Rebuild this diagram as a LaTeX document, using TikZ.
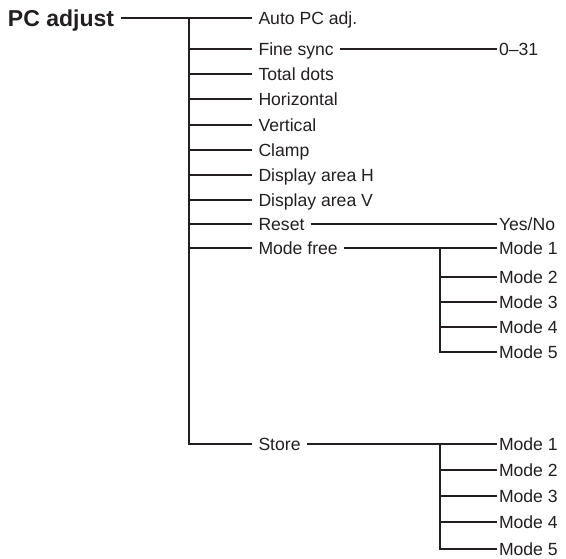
\documentclass[tikz,border=0pt]{standalone}
\usepackage{fontspec}
\setmainfont{Liberation Sans}
\definecolor{ink}{HTML}{231F20}
\begin{document}
\begin{tikzpicture}[x=1pt,y=-1pt,
  line width=1.2pt, draw=ink,
  item/.style={anchor=west, inner xsep=6.5pt, inner ysep=0pt, outer sep=0pt,
    font=\fontsize{17.6}{17.6}\selectfont, text=ink, text height=12.6pt, text depth=0pt},
  leaf/.style={item, inner xsep=2pt},
  title/.style={anchor=west, inner xsep=7pt, inner ysep=0pt, outer sep=0pt,
    font=\fontsize{23}{23}\selectfont\bfseries, text=ink, text height=16.5pt, text depth=0pt}]
\useasboundingbox (0,0) rectangle (566,558);
% main node
\node[title] (pc) at (1,18) {PC adjust};
% first level
\node[item] (auto)  at (252,18)  {Auto PC adj.};
\node[item] (fine)  at (252,49)  {Fine sync};
\node[item] (total) at (252,74)  {Total dots};
\node[item] (hor)   at (252,99)  {Horizontal};
\node[item] (ver)   at (252,125) {Vertical};
\node[item] (clamp) at (252,150) {Clamp};
\node[item] (dah)   at (252,175) {Display area H};
\node[item] (dav)   at (252,200) {Display area V};
\node[item] (reset) at (252,224) {Reset};
\node[item] (mfree) at (252,248) {Mode free};
\node[item] (store) at (252,444) {Store};
% leaves
\node[leaf] (range) at (497,49)  {0–31};
\node[leaf] (yesno) at (497,224) {Yes/No};
\node[leaf] (fm1) at (497,248) {Mode 1};
\node[leaf] (fm2) at (497,277) {Mode 2};
\node[leaf] (fm3) at (497,302) {Mode 3};
\node[leaf] (fm4) at (497,327) {Mode 4};
\node[leaf] (fm5) at (497,352) {Mode 5};
\node[leaf] (sm1) at (497,444) {Mode 1};
\node[leaf] (sm2) at (497,470) {Mode 2};
\node[leaf] (sm3) at (497,496) {Mode 3};
\node[leaf] (sm4) at (497,522) {Mode 4};
\node[leaf] (sm5) at (497,549) {Mode 5};
% trunks
\coordinate (t) at (189,18);
\coordinate (ft) at (440,248);
\coordinate (st) at (440,444);
\draw (pc.east) -- (auto.west);
\draw (t) -- (t |- store.west) -- (store.west);
\foreach \n in {fine,total,hor,ver,clamp,dah,dav,reset,mfree}
  \draw (t |- \n.west) -- (\n.west);
\draw (fine.east) -- (range.west);
\draw (reset.east) -- (yesno.west);
\draw (mfree.east) -- (fm1.west);
\draw (ft) -- (ft |- fm5.west) -- (fm5.west);
\foreach \n in {fm2,fm3,fm4}
  \draw (ft |- \n.west) -- (\n.west);
\draw (store.east) -- (sm1.west);
\draw (st) -- (st |- sm5.west) -- (sm5.west);
\foreach \n in {sm2,sm3,sm4}
  \draw (st |- \n.west) -- (\n.west);
\end{tikzpicture}
\end{document}
